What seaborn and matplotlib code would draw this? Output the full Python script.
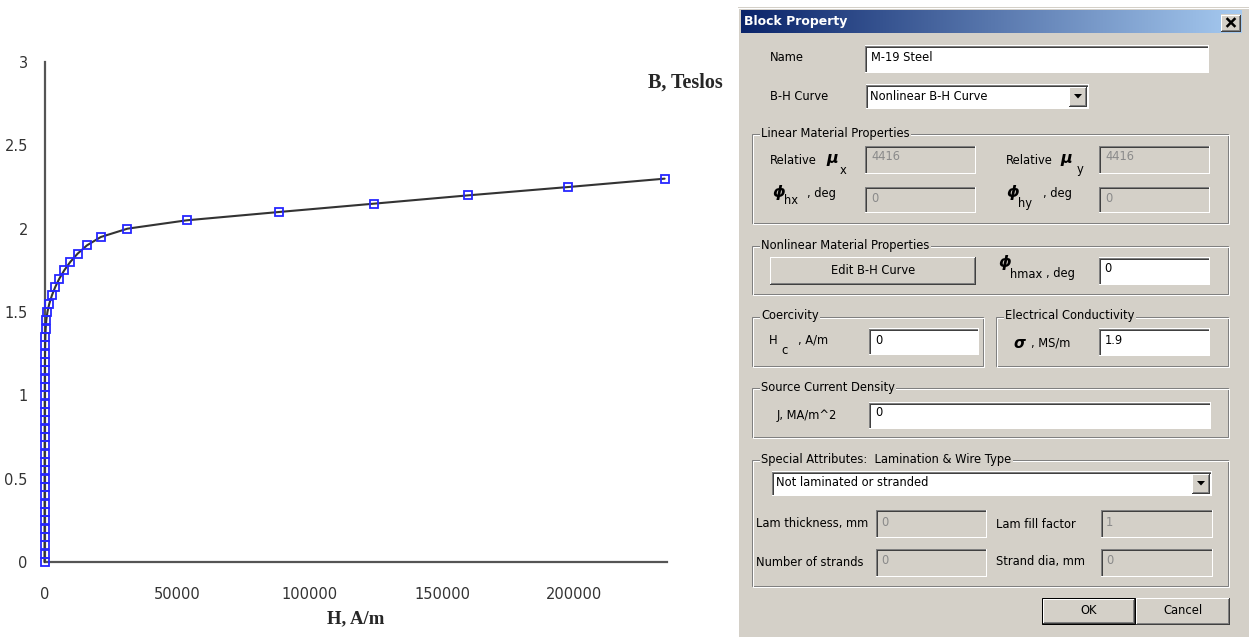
import matplotlib

matplotlib.use("Agg")

import matplotlib.pyplot as plt
import numpy as np
import pandas as pd
import seaborn as sns
from matplotlib import font_manager
from matplotlib.colors import LinearSegmentedColormap
from matplotlib.patches import Rectangle, Polygon

# B-H curve points (M-19 steel)
B_TESLA = [0, 0.05, 0.1, 0.15, 0.2, 0.25, 0.3, 0.35, 0.4, 0.45, 0.5, 0.55, 0.6,
           0.65, 0.7, 0.75, 0.8, 0.85, 0.9, 0.95, 1.0, 1.05, 1.1, 1.15, 1.2, 1.25,
           1.3, 1.35, 1.4, 1.45, 1.5, 1.55, 1.6, 1.65, 1.7, 1.75, 1.8, 1.85, 1.9,
           1.95, 2.0, 2.05, 2.1, 2.15, 2.2, 2.25, 2.3]
H_AM = [0, 15.1, 22.7, 27.8, 31.9, 35.4, 38.6, 41.7, 44.9, 48.1, 51.4, 55.0, 58.8,
        62.8, 67.2, 72.1, 77.4, 83.4, 90.0, 97.5, 106.2, 116.3, 128.5, 143.8, 163.8,
        191.9, 234.8, 306.5, 435.3, 674.9, 1108.3, 1813.1, 2801.2, 4053.7, 5591.1,
        7448.3, 9708.8, 12486.9, 16041.5, 21249.4, 31313.5, 53589.4, 88477.5,
        124329.4, 159968.6, 197751.6, 234024.8]

X_TICKS = [0, 50000, 100000, 150000, 200000]
Y_TICKS = [0, 0.5, 1, 1.5, 2, 2.5, 3]
Y_TICK_LABELS = ["0", "0.5", "1", "1.5", "2", "2.5", "3"]

# dialog field contents
DIALOG_TITLE = "Block Property"
MATERIAL_NAME = "M-19 Steel"
BH_CHOICE = "Nonlinear B-H Curve"
MU_X = "4416"
MU_Y = "4416"
PHI_HX = "0"
PHI_HY = "0"
PHI_HMAX = "0"
COERCIVITY = "0"
CONDUCTIVITY = "1.9"
CURRENT_DENSITY = "0"
LAM_CHOICE = "Not laminated or stranded"
LAM_THICKNESS = "0"
LAM_FILL = "1"
N_STRANDS = "0"
STRAND_DIA = "0"

BG = "#d4d0c8"
DARK = "#404040"
MID = "#808080"
PX = 0.72
UI_FONT = "DejaVu Sans"
UI_SIZE = 8.3

sns.set_style("white")
plt.rcParams["font.family"] = ["DejaVu Sans"]

names = {f.name for f in font_manager.fontManager.ttflist}
if "Liberation Sans Narrow" in names:
    TICK_FONT, TICK_SIZE = "Liberation Sans Narrow", 13
else:
    TICK_FONT, TICK_SIZE = "DejaVu Sans", 10.5

fig = plt.figure(figsize=(12.49, 6.37), dpi=100)
W, H = 1249, 637

# ---------------- chart ----------------
ax = fig.add_axes([44.5 / W, 1 - 562 / H, (667.2 - 44.5) / W, 500 / H])
curve = pd.DataFrame({"H": H_AM, "B": B_TESLA})
sns.lineplot(
    data=curve, x="H", y="B", sort=False, estimator=None, ax=ax,
    color="#333333", linewidth=1.5, marker="s", markersize=5.2,
    markerfacecolor="none", markeredgecolor="#2626ff", markeredgewidth=1.3,
    clip_on=False, zorder=3,
)
ax.set_xlim(0, 235000)
ax.set_ylim(0, 3)
ax.set_xticks(X_TICKS)
ax.set_xticklabels([str(v) for v in X_TICKS])
ax.set_yticks(Y_TICKS)
ax.set_yticklabels(Y_TICK_LABELS)
for s in ["top", "right"]:
    ax.spines[s].set_visible(False)
for s in ["left", "bottom"]:
    ax.spines[s].set_color("#555555")
    ax.spines[s].set_linewidth(1.6)
ax.tick_params(axis="x", direction="out", length=6, width=1, color="#555555", pad=12)
ax.tick_params(axis="y", direction="out", length=5, width=1, color="#555555", pad=7)
for lab in ax.get_xticklabels() + ax.get_yticklabels():
    lab.set_fontfamily(TICK_FONT)
    lab.set_fontsize(TICK_SIZE)
    lab.set_color("#333333")
ax.set_xlabel("H, A/m", fontfamily="Liberation Serif", fontweight="bold",
              fontsize=13.5, labelpad=6)
ax.set_ylabel("")
fig.text(648 / W, 1 - 83 / H, "B, Teslos", fontfamily="Liberation Serif",
         fontweight="bold", fontsize=14.5, va="center", ha="left")

# ---------------- dialog ----------------
ui = fig.add_axes([0, 0, 1, 1], zorder=-1)
ui.set_xlim(0, W)
ui.set_ylim(H, 0)
ui.axis("off")


def line(x0, y0, x1, y1, c, lw=PX):
    ui.plot([x0, x1], [y0, y1], color=c, lw=lw, solid_capstyle="projecting", zorder=4)


def txt(x, y, s, **kw):
    opts = dict(fontsize=UI_SIZE, family=UI_FONT, va="center", ha="left",
                color="black", zorder=6)
    opts.update(kw)
    ui.text(x, y, s, **opts)


def sunken(x0, y0, x1, y1, fill):
    ui.add_patch(Rectangle((x0, y0), x1 - x0, y1 - y0, fc=fill, ec="none", zorder=3))
    line(x0 + 0.5, y0 + 0.5, x1 - 0.5, y0 + 0.5, MID)
    line(x0 + 0.5, y0 + 0.5, x0 + 0.5, y1 - 0.5, MID)
    line(x0 + 1.5, y0 + 1.5, x1 - 1.5, y0 + 1.5, DARK)
    line(x0 + 1.5, y0 + 1.5, x0 + 1.5, y1 - 1.5, DARK)
    line(x0 + 0.5, y1 - 0.5, x1 - 0.5, y1 - 0.5, "white")
    line(x1 - 0.5, y0 + 0.5, x1 - 0.5, y1 - 0.5, "white")


def raised(x0, y0, x1, y1, default=False):
    ui.add_patch(Rectangle((x0, y0), x1 - x0, y1 - y0, fc=BG, ec="none", zorder=3))
    if default:
        ui.add_patch(Rectangle((x0 + 0.5, y0 + 0.5), x1 - x0 - 1, y1 - y0 - 1,
                               fc="none", ec="black", lw=PX, zorder=4))
        x0, y0, x1, y1 = x0 + 1, y0 + 1, x1 - 1, y1 - 1
    line(x0 + 0.5, y0 + 0.5, x1 - 0.5, y0 + 0.5, "white")
    line(x0 + 0.5, y0 + 0.5, x0 + 0.5, y1 - 0.5, "white")
    line(x0 + 0.5, y1 - 0.5, x1 - 0.5, y1 - 0.5, DARK)
    line(x1 - 0.5, y0 + 0.5, x1 - 0.5, y1 - 0.5, DARK)
    line(x0 + 1.5, y1 - 1.5, x1 - 1.5, y1 - 1.5, MID)
    line(x1 - 1.5, y0 + 1.5, x1 - 1.5, y1 - 1.5, MID)


def combo(x0, y0, x1, y1, value):
    sunken(x0, y0, x1, y1, "white")
    bx0, by0, bx1, by1 = x1 - 20, y0 + 2, x1 - 2, y1 - 2
    raised(bx0, by0, bx1, by1)
    cx, cy = (bx0 + bx1) / 2, (by0 + by1) / 2
    ui.add_patch(Polygon([[cx - 4, cy - 2], [cx + 4, cy - 2], [cx, cy + 2.5]],
                         closed=True, fc="black", ec="none", zorder=5))
    txt(x0 + 4, (y0 + y1) / 2, value)


def group(x0, y0, x1, y1, label):
    ui.add_patch(Rectangle((x0 + 0.5, y0 + 0.5), x1 - x0 - 2, y1 - y0 - 2,
                           fc="none", ec=MID, lw=PX, zorder=2))
    ui.add_patch(Rectangle((x0 + 1.5, y0 + 1.5), x1 - x0 - 2, y1 - y0 - 2,
                           fc="none", ec="white", lw=PX, zorder=2))
    txt(x0 + 9, y0, label, bbox=dict(fc=BG, ec="none", pad=1.0))


# window frame and title bar
ui.add_patch(Rectangle((738, 7), W - 738, H - 7, fc=BG, ec="none", zorder=1))
line(738.5, 7.5, 738.5, H, "white")
line(738.5, 7.5, W, 7.5, "white")
grad = LinearSegmentedColormap.from_list("title", ["#0a246a", "#a6caf0"])
ui.imshow(np.linspace(0, 1, 256)[None, :], cmap=grad, extent=(741, 1242, 33, 10),
          aspect="auto", interpolation="bilinear", zorder=2)
ui.set_xlim(0, W)
ui.set_ylim(H, 0)
txt(744, 21.5, DIALOG_TITLE, color="white", fontweight="bold", fontsize=9)
raised(1221, 14, 1241, 31)
line(1227.5, 19, 1234.5, 26, "black", lw=1.8)
line(1234.5, 19, 1227.5, 26, "black", lw=1.8)

GREY_TXT = "#8a8a8a"

txt(770, 57.5, "Name")
sunken(865, 45, 1209, 72, "white")
txt(871, 57.5, MATERIAL_NAME)
txt(770, 97, "B-H Curve")
combo(866, 84, 1089, 108, BH_CHOICE)

group(752, 133, 1230, 224, "Linear Material Properties")
txt(770, 161, "Relative")
txt(826, 158, "\u03bc", fontsize=11.5, fontweight="bold", style="italic")
txt(840, 170, "x")
sunken(865, 145, 976, 173, BG)
txt(871, 156, MU_X, color=GREY_TXT)
txt(1006, 161, "Relative")
txt(1060, 158, "\u03bc", fontsize=11.5, fontweight="bold", style="italic")
txt(1077, 170, "y")
sunken(1099, 145, 1210, 173, BG)
txt(1105, 156, MU_Y, color=GREY_TXT)
txt(772, 192, "\u03d5", fontsize=11.5, fontweight="bold", style="italic")
txt(784, 200, "hx")
txt(807, 193, ", deg")
sunken(865, 186, 976, 212, BG)
txt(871, 198, PHI_HX, color=GREY_TXT)
txt(1006, 192, "\u03d5", fontsize=11.5, fontweight="bold", style="italic")
txt(1018, 203, "hy")
txt(1043, 193, ", deg")
sunken(1099, 186, 1210, 212, BG)
txt(1105, 198, PHI_HY, color=GREY_TXT)

group(752, 245, 1230, 295, "Nonlinear Material Properties")
raised(770, 256, 976, 284)
txt(873, 270, "Edit B-H Curve", ha="center")
txt(998, 262, "\u03d5", fontsize=11.5, fontweight="bold", style="italic")
txt(1010, 274, "hmax")
txt(1046, 274, ", deg")
sunken(1099, 257, 1210, 284, "white")
txt(1104, 268, PHI_HMAX)

group(752, 316, 985, 367, "Coercivity")
txt(769, 340, "H")
txt(781, 351, "c")
txt(798, 340, ", A/m")
sunken(869, 328, 979, 354, "white")
txt(875, 340, COERCIVITY)
group(996, 316, 1230, 367, "Electrical Conductivity")
txt(1013, 343, "\u03c3", fontsize=11, fontweight="bold", style="italic")
txt(1031, 343, ", MS/m")
sunken(1099, 328, 1210, 355, "white")
txt(1105, 340, CONDUCTIVITY)

group(752, 387, 1230, 438, "Source Current Density")
txt(777, 415, "J, MA/m^2")
sunken(869, 402, 1211, 428, "white")
txt(875, 413, CURRENT_DENSITY)

group(752, 459, 1230, 587, "Special Attributes:  Lamination & Wire Type")
combo(772, 471, 1212, 495, LAM_CHOICE)
txt(756, 524, "Lam thickness, mm")
sunken(876, 509, 987, 537, BG)
txt(881, 522, LAM_THICKNESS, color=GREY_TXT)
txt(996, 524, "Lam fill factor")
sunken(1101, 509, 1213, 537, BG)
txt(1106, 522, LAM_FILL, color=GREY_TXT)
txt(756, 562, "Number of strands")
sunken(876, 548, 987, 576, BG)
txt(881, 560, N_STRANDS, color=GREY_TXT)
txt(996, 562, "Strand dia, mm")
sunken(1101, 548, 1213, 576, BG)
txt(1106, 560, STRAND_DIA, color=GREY_TXT)

raised(1042, 597, 1136, 624, default=True)
txt(1089, 610.5, "OK", ha="center")
raised(1136, 597, 1230, 624)
txt(1183, 610.5, "Cancel", ha="center")

fig.savefig("out.png", dpi=100, facecolor="white")
